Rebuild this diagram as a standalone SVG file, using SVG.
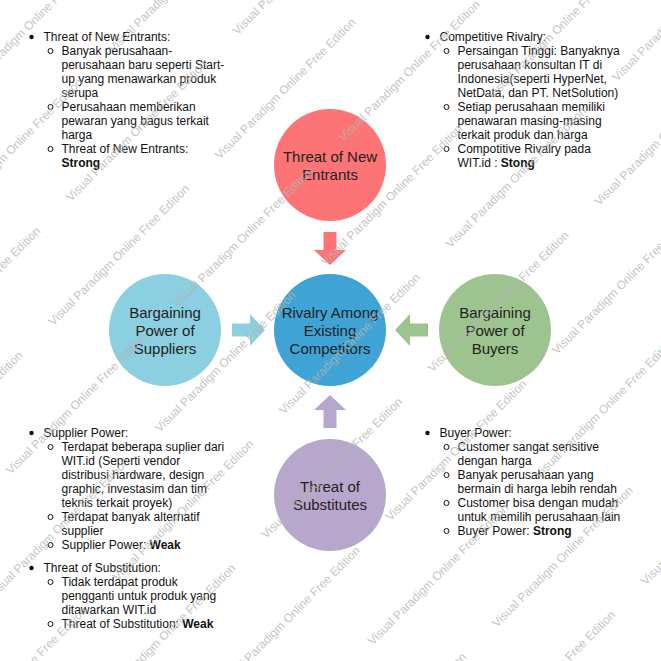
<svg xmlns="http://www.w3.org/2000/svg" width="661" height="661" viewBox="0 0 661 661">
<style>
.bg{fill:#ffffff}
.ct{font-family:"Liberation Sans",Arial,sans-serif;font-size:15px;fill:#222;text-anchor:middle}
.lt{font-family:"Liberation Sans",Arial,sans-serif;font-size:12px;fill:#111}
.b{font-weight:bold}
.d1{fill:#111}
.d2{fill:none;stroke:#111;stroke-width:1}
.wm{font-family:"Liberation Sans",Arial,sans-serif;font-size:12px;fill:#b4b4b4;fill-opacity:0.8}
</style>
<rect class="bg" x="0" y="0" width="661" height="661"/>

<g id="connectors">
<polygon points="323.5,232 336.5,232 336.5,250 346,250 330,265 314,250 323.5,250" fill="#fd7476"/>
<polygon points="232,323.5 250,323.5 250,314 265,330 250,346 250,336.5 232,336.5" fill="#8ccfe0"/>
<polygon points="428,323.5 410,323.5 410,314 395,330 410,346 410,336.5 428,336.5" fill="#9dc48e"/>
<polygon points="323.5,428 336.5,428 336.5,410 346,410 330,395 314,410 323.5,410" fill="#b8a7cc"/>
</g>

<g id="node-new-entrants">
<circle cx="330" cy="165" r="56" fill="#fd7476"/>
<text class="ct" x="330" y="162">Threat of New</text>
<text class="ct" x="330" y="180">Entrants</text>
</g>
<g id="node-rivalry">
<circle cx="330" cy="330" r="56" fill="#3fa4d5"/>
<text class="ct" x="330" y="318">Rivalry Among</text>
<text class="ct" x="330" y="336">Existing</text>
<text class="ct" x="330" y="354">Competitors</text>
</g>
<g id="node-suppliers">
<circle cx="165" cy="330" r="56" fill="#8ccfe0"/>
<text class="ct" x="165" y="318">Bargaining</text>
<text class="ct" x="165" y="336">Power of</text>
<text class="ct" x="165" y="354">Suppliers</text>
</g>
<g id="node-buyers">
<circle cx="495" cy="330" r="56" fill="#9dc48e"/>
<text class="ct" x="495" y="318">Bargaining</text>
<text class="ct" x="495" y="336">Power of</text>
<text class="ct" x="495" y="354">Buyers</text>
</g>
<g id="node-substitutes">
<circle cx="330" cy="495" r="56" fill="#b8a7cc"/>
<text class="ct" x="330" y="492">Threat of</text>
<text class="ct" x="330" y="510">Substitutes</text>
</g>

<g id="note-new-entrants">
<circle class="d1" cx="31.5" cy="37" r="2.2"/>
<text class="lt" x="43.5" y="41">Threat of New Entrants:</text>
<circle class="d2" cx="50.5" cy="51" r="2.5"/>
<text class="lt" x="61.5" y="55">Banyak perusahaan-</text>
<text class="lt" x="61.5" y="69">perusahaan baru seperti Start-</text>
<text class="lt" x="61.5" y="83">up yang menawarkan produk</text>
<text class="lt" x="61.5" y="97">serupa</text>
<circle class="d2" cx="50.5" cy="107" r="2.5"/>
<text class="lt" x="61.5" y="111">Perusahaan memberikan</text>
<text class="lt" x="61.5" y="125">pewaran yang bagus terkait</text>
<text class="lt" x="61.5" y="139">harga</text>
<circle class="d2" cx="50.5" cy="149" r="2.5"/>
<text class="lt" x="61.5" y="153">Threat of New Entrants:</text>
<text class="lt b" x="61.5" y="167">Strong</text>
</g>

<g id="note-rivalry">
<circle class="d1" cx="427.5" cy="37" r="2.2"/>
<text class="lt" x="439.5" y="41">Competitive Rivalry:</text>
<circle class="d2" cx="446.5" cy="51" r="2.5"/>
<text class="lt" x="457.5" y="55">Persaingan Tinggi: Banyaknya</text>
<text class="lt" x="457.5" y="69">perusahaan konsultan IT di</text>
<text class="lt" x="457.5" y="83">Indonesia(seperti HyperNet,</text>
<text class="lt" x="457.5" y="97">NetData, dan PT. NetSolution)</text>
<circle class="d2" cx="446.5" cy="107" r="2.5"/>
<text class="lt" x="457.5" y="111">Setiap perusahaan memiliki</text>
<text class="lt" x="457.5" y="125">penawaran masing-masing</text>
<text class="lt" x="457.5" y="139">terkait produk dan harga</text>
<circle class="d2" cx="446.5" cy="149" r="2.5"/>
<text class="lt" x="457.5" y="153">Compotitive Rivalry pada</text>
<text class="lt" x="457.5" y="167">WIT.id : <tspan class="b">Stong</tspan></text>
</g>

<g id="note-suppliers">
<circle class="d1" cx="31.5" cy="433" r="2.2"/>
<text class="lt" x="43.5" y="437">Supplier Power:</text>
<circle class="d2" cx="50.5" cy="447" r="2.5"/>
<text class="lt" x="61.5" y="451">Terdapat beberapa suplier dari</text>
<text class="lt" x="61.5" y="465">WIT.id (Seperti vendor</text>
<text class="lt" x="61.5" y="479">distribusi hardware, design</text>
<text class="lt" x="61.5" y="493">graphic, investasim dan tim</text>
<text class="lt" x="61.5" y="507">teknis terkait proyek)</text>
<circle class="d2" cx="50.5" cy="517" r="2.5"/>
<text class="lt" x="61.5" y="521">Terdapat banyak alternatif</text>
<text class="lt" x="61.5" y="535">supplier</text>
<circle class="d2" cx="50.5" cy="545" r="2.5"/>
<text class="lt" x="61.5" y="549">Supplier Power: <tspan class="b">Weak</tspan></text>
</g>

<g id="note-substitution">
<circle class="d1" cx="31.5" cy="568" r="2.2"/>
<text class="lt" x="43.5" y="572">Threat of Substitution:</text>
<circle class="d2" cx="50.5" cy="582" r="2.5"/>
<text class="lt" x="61.5" y="586">Tidak terdapat produk</text>
<text class="lt" x="61.5" y="600">pengganti untuk produk yang</text>
<text class="lt" x="61.5" y="614">ditawarkan WIT.id</text>
<circle class="d2" cx="50.5" cy="624" r="2.5"/>
<text class="lt" x="61.5" y="628">Threat of Substitution: <tspan class="b">Weak</tspan></text>
</g>

<g id="note-buyers">
<circle class="d1" cx="427.5" cy="433" r="2.2"/>
<text class="lt" x="439.5" y="437">Buyer Power:</text>
<circle class="d2" cx="446.5" cy="447" r="2.5"/>
<text class="lt" x="457.5" y="451">Customer sangat sensitive</text>
<text class="lt" x="457.5" y="465">dengan harga</text>
<circle class="d2" cx="446.5" cy="475" r="2.5"/>
<text class="lt" x="457.5" y="479">Banyak perusahaan yang</text>
<text class="lt" x="457.5" y="493">bermain di harga lebih rendah</text>
<circle class="d2" cx="446.5" cy="503" r="2.5"/>
<text class="lt" x="457.5" y="507">Customer bisa dengan mudah</text>
<text class="lt" x="457.5" y="521">untuk memilih perusahaan lain</text>
<circle class="d2" cx="446.5" cy="531" r="2.5"/>
<text class="lt" x="457.5" y="535">Buyer Power: <tspan class="b">Strong</tspan></text>
</g>

<g id="watermark">
<text class="wm" transform="translate(-35.5,95.5) rotate(-45)">Visual Paradigm Online Free Edition</text>
<text class="wm" transform="translate(-53.25,219.75) rotate(-45)">Visual Paradigm Online Free Edition</text>
<text class="wm" transform="translate(113.25,53.25) rotate(-45)">Visual Paradigm Online Free Edition</text>
<text class="wm" transform="translate(-95.5,368.5) rotate(-45)">Visual Paradigm Online Free Edition</text>
<text class="wm" transform="translate(71,202) rotate(-45)">Visual Paradigm Online Free Edition</text>
<text class="wm" transform="translate(237.5,35.5) rotate(-45)">Visual Paradigm Online Free Edition</text>
<text class="wm" transform="translate(-113.25,492.75) rotate(-45)">Visual Paradigm Online Free Edition</text>
<text class="wm" transform="translate(53.25,326.25) rotate(-45)">Visual Paradigm Online Free Edition</text>
<text class="wm" transform="translate(219.75,159.75) rotate(-45)">Visual Paradigm Online Free Edition</text>
<text class="wm" transform="translate(11,475) rotate(-45)">Visual Paradigm Online Free Edition</text>
<text class="wm" transform="translate(177.5,308.5) rotate(-45)">Visual Paradigm Online Free Edition</text>
<text class="wm" transform="translate(344,142) rotate(-45)">Visual Paradigm Online Free Edition</text>
<text class="wm" transform="translate(-6.75,599.25) rotate(-45)">Visual Paradigm Online Free Edition</text>
<text class="wm" transform="translate(159.75,432.75) rotate(-45)">Visual Paradigm Online Free Edition</text>
<text class="wm" transform="translate(326.25,266.25) rotate(-45)">Visual Paradigm Online Free Edition</text>
<text class="wm" transform="translate(492.75,99.75) rotate(-45)">Visual Paradigm Online Free Edition</text>
<text class="wm" transform="translate(-49,748) rotate(-45)">Visual Paradigm Online Free Edition</text>
<text class="wm" transform="translate(117.5,581.5) rotate(-45)">Visual Paradigm Online Free Edition</text>
<text class="wm" transform="translate(284,415) rotate(-45)">Visual Paradigm Online Free Edition</text>
<text class="wm" transform="translate(450.5,248.5) rotate(-45)">Visual Paradigm Online Free Edition</text>
<text class="wm" transform="translate(617,82) rotate(-45)">Visual Paradigm Online Free Edition</text>
<text class="wm" transform="translate(99.75,705.75) rotate(-45)">Visual Paradigm Online Free Edition</text>
<text class="wm" transform="translate(266.25,539.25) rotate(-45)">Visual Paradigm Online Free Edition</text>
<text class="wm" transform="translate(432.75,372.75) rotate(-45)">Visual Paradigm Online Free Edition</text>
<text class="wm" transform="translate(599.25,206.25) rotate(-45)">Visual Paradigm Online Free Edition</text>
<text class="wm" transform="translate(224,688) rotate(-45)">Visual Paradigm Online Free Edition</text>
<text class="wm" transform="translate(390.5,521.5) rotate(-45)">Visual Paradigm Online Free Edition</text>
<text class="wm" transform="translate(557,355) rotate(-45)">Visual Paradigm Online Free Edition</text>
<text class="wm" transform="translate(372.75,645.75) rotate(-45)">Visual Paradigm Online Free Edition</text>
<text class="wm" transform="translate(539.25,479.25) rotate(-45)">Visual Paradigm Online Free Edition</text>
<text class="wm" transform="translate(330.5,794.5) rotate(-45)">Visual Paradigm Online Free Edition</text>
<text class="wm" transform="translate(497,628) rotate(-45)">Visual Paradigm Online Free Edition</text>
<text class="wm" transform="translate(479.25,752.25) rotate(-45)">Visual Paradigm Online Free Edition</text>
<text class="wm" transform="translate(645.75,585.75) rotate(-45)">Visual Paradigm Online Free Edition</text>
</g>
</svg>
